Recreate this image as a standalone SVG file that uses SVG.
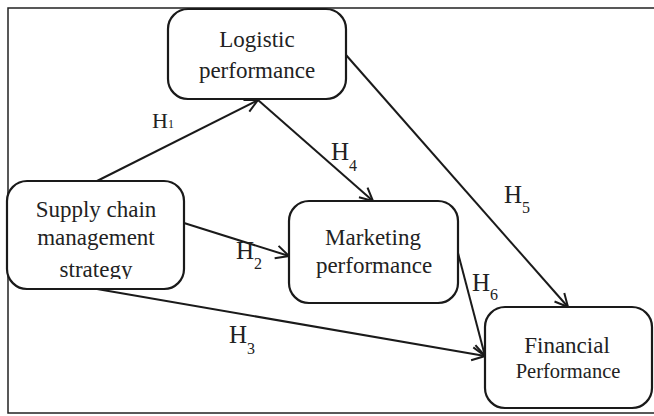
<svg xmlns="http://www.w3.org/2000/svg" width="654" height="416" viewBox="0 0 654 416">
<defs>
<style>
.frame{fill:none;stroke:#222;stroke-width:1.5}
.node{fill:#fff;stroke:#1a1a1a;stroke-width:2.2}
.t{font-family:"Liberation Serif","Times New Roman",serif;font-size:23px;fill:#222;text-anchor:middle}
.h{font-family:"Liberation Serif","Times New Roman",serif;font-size:25px;fill:#222}
.sub{font-size:16px}
.edge{fill:none;stroke:#1a1a1a;stroke-width:2;marker-end:url(#arr)}
</style>
<marker id="arr" markerUnits="userSpaceOnUse" markerWidth="18" markerHeight="18" refX="14" refY="8" orient="auto">
<path d="M1,1.5 L14,8 L1,14.5" fill="none" stroke="#1a1a1a" stroke-width="2"/>
</marker>
<clipPath id="clipSupply"><rect x="7" y="181" width="177" height="98"/></clipPath>
</defs>
<rect class="frame" x="8" y="8" width="670" height="405"/>
<g id="connectors">
<line class="edge" x1="97" y1="181" x2="258" y2="100"/>
<line class="edge" x1="258" y1="100" x2="373" y2="201"/>
<line class="edge" x1="346" y1="55" x2="568" y2="307"/>
<line class="edge" x1="184" y1="223" x2="289" y2="256"/>
<line class="edge" x1="97" y1="289" x2="485" y2="356"/>
<line class="edge" x1="458" y1="253" x2="485" y2="356"/>
</g>
<g id="node-logistic">
<rect class="node" x="168" y="9" width="178" height="90" rx="20"/>
<text class="t" x="257" y="47">Logistic</text>
<text class="t" x="257" y="78">performance</text>
</g>
<g id="node-supply">
<rect class="node" x="7" y="181" width="177" height="108" rx="20"/>
<text class="t" x="96" y="217">Supply chain</text>
<text class="t" x="96" y="245">management</text>
<text class="t" x="96" y="277" clip-path="url(#clipSupply)">strategy</text>
</g>
<g id="node-marketing">
<rect class="node" x="289" y="201" width="169" height="102" rx="20"/>
<text class="t" x="373" y="245">Marketing</text>
<text class="t" x="374" y="273">performance</text>
</g>
<g id="node-financial">
<rect class="node" x="485" y="307" width="167" height="101" rx="20"/>
<text class="t" x="567" y="353">Financial</text>
<text class="t" x="568" y="378" style="font-size:20.5px">Performance</text>
</g>
<g id="labels">
<text class="h" x="152" y="128" style="font-size:22px">H<tspan style="font-size:12px">1</tspan></text>
<text class="h" x="331" y="160">H<tspan class="sub" dy="11">4</tspan></text>
<text class="h" x="504" y="203">H<tspan class="sub" dy="10">5</tspan></text>
<text class="h" x="236" y="259">H<tspan class="sub" dy="10">2</tspan></text>
<text class="h" x="229" y="343">H<tspan class="sub" dy="11">3</tspan></text>
<text class="h" x="472" y="291">H<tspan class="sub" dy="9">6</tspan></text>
</g>
</svg>
